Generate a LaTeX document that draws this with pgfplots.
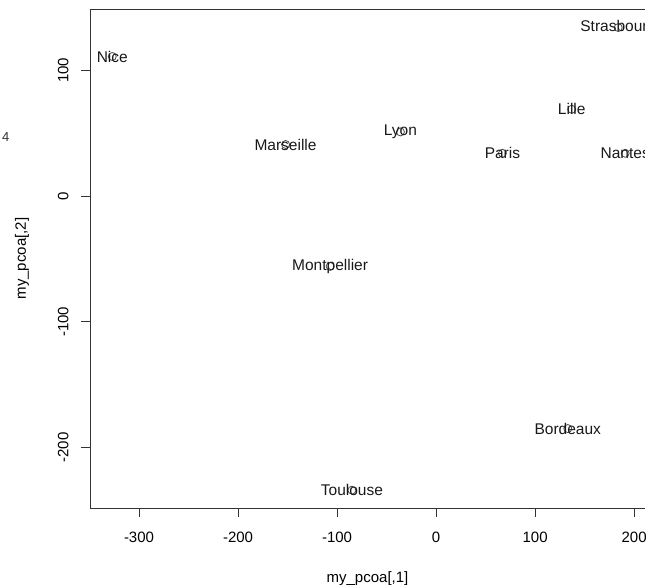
\documentclass[border=0pt]{standalone}
\usepackage{fontspec}
\setmainfont{Liberation Sans}
\usepackage{pgfplots}
\pgfplotsset{compat=1.18}
\begin{document}
\begin{tikzpicture}
\begin{axis}[
  scale only axis, width=555pt, height=499pt,
  xmin=-349.5, xmax=211, ymin=-248.2, ymax=148.8,
  axis line style={black!80, line width=0.8pt},
  xtick={-300,-200,...,200}, ytick={-200,-100,0,100},
  xtick pos=left, ytick pos=left,
  tick align=outside, major tick length=9pt,
  tick style={black!80, line width=0.8pt},
  tick label style={font=\fontsize{15}{18}\selectfont},
  /pgf/number format/assume math mode=true,
  yticklabel style={rotate=90, anchor=south, yshift=9pt},
  xticklabel style={anchor=north, yshift=-11pt},
  xlabel={my\_pcoa[,1]}, ylabel={my\_pcoa[,2]},
  label style={font=\fontsize{15}{18}\selectfont},
  xlabel style={at={(axis description cs:0.5,0)}, anchor=center, yshift=-71pt},
  ylabel style={at={(axis description cs:0,0.5)}, anchor=center, rotate=0, yshift=68pt},
]
\addplot[only marks, mark=o, mark size=4pt, black!70,
  mark options={line width=0.8pt, draw=black!70},
  nodes near coords, point meta=explicit symbolic,
  every node near coord/.style={anchor=center, text=black!90, font=\fontsize{15.5}{18}\selectfont}]
  table[meta=label] {
x y label
-327 111 Nice
184 134 Strasbourg
137 69 Lille
191 34 Nantes
-36 51 Lyon
-152 41 Marseille
67 34 Paris
-107 -56 Montpellier
133 -185 Bordeaux
-85 -234 Toulouse
};
\end{axis}
\fill[white] ([xshift=0.45pt,yshift=-2pt]current axis.south east) rectangle ([xshift=20pt,yshift=2pt]current axis.north east);
\node[anchor=west, font=\fontsize{13}{15}\selectfont, black!80, inner sep=0pt] at ([xshift=-88pt,yshift=-128pt]current axis.north west) {4};
\pgfresetboundingbox
\path ([xshift=-90pt,yshift=-77pt]current axis.south west) rectangle ([xshift=5pt,yshift=9pt]current axis.north east);
\end{tikzpicture}
\end{document}
